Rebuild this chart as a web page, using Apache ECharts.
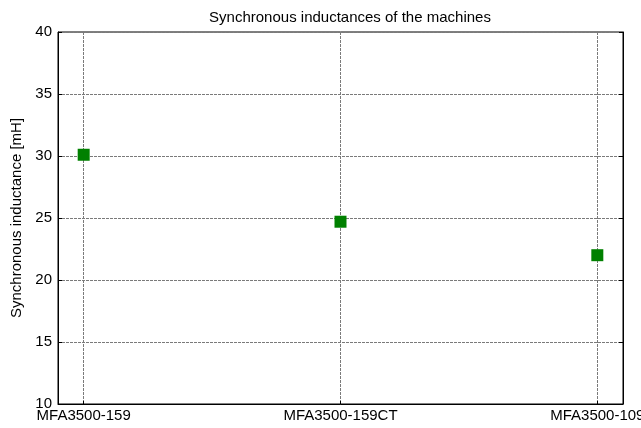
<!DOCTYPE html>
<html>
<head>
  <meta charset="UTF-8">
  <title>Synchronous inductances</title>
  <style>
    html, body { margin: 0; padding: 0; width: 100%; height: 100%; background: #fff; }
    #main { width: 641px; height: 428px; }
  </style>
  <script src="https://cdn.jsdelivr.net/npm/echarts@6/dist/echarts.min.js"></script>
</head>
<body>
<div id="main"></div>
<script>
  // machine names and their synchronous inductance (mH)
  var machines = ['MFA3500-159', 'MFA3500-159CT', 'MFA3500-109'];
  var inductance = [30.1, 24.7, 22.0];
  var yMin = 10, yMax = 40, yStep = 5;

  var positions = machines.map(function (m, i) { return i + 1; });
  var points = machines.map(function (m, i) { return [positions[i], inductance[i]]; });

  var font = 'Liberation Sans, Arial, sans-serif';
  var gridLine = { show: true, lineStyle: { color: '#7a7a7a', width: 1, type: [3, 1] } };

  var chart = echarts.init(document.getElementById('main'));
  chart.setOption({
    animation: false,
    title: {
      text: 'Synchronous inductances of the machines',
      left: 345, top: 5, textAlign: 'center',
      textStyle: { fontFamily: font, fontSize: 15, fontWeight: 'normal', color: '#000' }
    },
    grid: {
      left: 58, right: 18, top: 32, bottom: 24,
      outerBoundsMode: 'none', containLabel: false,
      show: true, borderColor: '#000', borderWidth: 1
    },
    xAxis: [{
      type: 'value', min: 0.9, max: 3.1,
      axisLine: { show: true, lineStyle: { color: '#000' } },
      axisTick: { show: true, inside: true, length: 3, customValues: positions, lineStyle: { color: '#000' } },
      axisLabel: {
        customValues: positions,
        fontFamily: font, fontSize: 15, color: '#000', margin: 4,
        formatter: function (v) { return machines[Math.round(v) - 1] || ''; }
      },
      splitLine: gridLine
    }],
    yAxis: [{
      type: 'value', min: yMin, max: yMax, interval: yStep,
      name: 'Synchronous inductance [mH]', nameLocation: 'middle', nameGap: 33,
      nameTextStyle: { fontFamily: font, fontSize: 15, color: '#000' },
      axisLine: { show: true, lineStyle: { color: '#000' } },
      axisTick: { show: true, inside: true, length: 4, lineStyle: { color: '#000' } },
      axisLabel: { fontFamily: font, fontSize: 15, color: '#000', margin: 6 },
      splitLine: gridLine
    }, {
      type: 'value', min: yMin, max: yMax, interval: yStep, position: 'right',
      axisLine: { show: true, lineStyle: { color: '#000' } },
      axisTick: { show: true, inside: true, length: 4, lineStyle: { color: '#000' } },
      axisLabel: { show: false },
      splitLine: { show: false }
    }],
    series: [{
      type: 'scatter',
      data: points,
      symbol: 'rect',
      symbolSize: 12,
      itemStyle: { color: '#008000', opacity: 1 }
    }]
  });
</script>
</body>
</html>
